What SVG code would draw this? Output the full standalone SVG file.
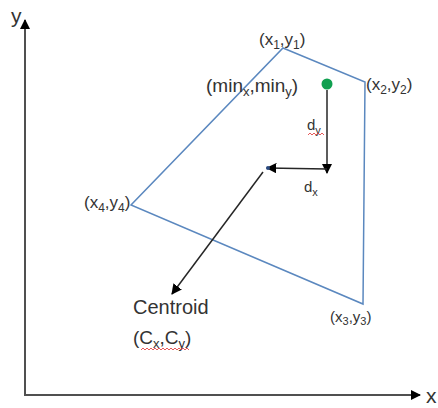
<svg xmlns="http://www.w3.org/2000/svg" width="438" height="408" viewBox="0 0 438 408">
<defs>
<style>
text{font-family:"Liberation Sans",Arial,sans-serif;fill:#333}
.lbl{font-size:17px}
.ax{stroke:#505050;stroke-width:2;fill:none}
.arr{stroke:#262626;stroke-width:1.5;fill:none}
.poly{stroke:#5b88bf;stroke-width:1.5;fill:none}
.sq{stroke:#e03030;stroke-width:0.8;fill:none}
</style>
<marker id="ah" viewBox="0 0 10 10" refX="9" refY="5" markerWidth="7" markerHeight="7" orient="auto" markerUnits="strokeWidth"><path d="M0,0 L10,5 L0,10 z" fill="#000"/></marker>
<marker id="axh" viewBox="0 0 10 10" refX="9" refY="5" markerWidth="5" markerHeight="5" orient="auto" markerUnits="strokeWidth"><path d="M0,0 L10,5 L0,10 z" fill="#000"/></marker>
</defs>
<g id="axes">
<line class="ax" x1="25" y1="395" x2="25" y2="20" marker-end="url(#axh)"/>
<line class="ax" x1="24" y1="395" x2="420" y2="395" marker-end="url(#axh)"/>
<text x="11" y="23" style="font-size:21px">y</text>
<text x="426" y="403" style="font-size:21px">x</text>
</g>
<g id="polygon">
<polygon class="poly" points="283,48 365,82 363,304 131,205"/>
</g>
<g id="connectors">
<line class="arr" x1="327" y1="90" x2="327" y2="173" marker-end="url(#ah)"/>
<line class="arr" x1="327" y1="169" x2="267" y2="168" marker-end="url(#ah)"/>
<line class="arr" x1="263" y1="172" x2="172" y2="294" marker-end="url(#ah)"/>
</g>
<g id="min-point">
<circle cx="327" cy="84" r="5.5" fill="#10a050"/>
<circle cx="268" cy="168" r="2" fill="#2a4a80"/>
</g>
<g id="labels">
<text class="lbl" x="259" y="45">(x<tspan dy="4" font-size="12">1</tspan><tspan dy="-4">,y</tspan><tspan dy="4" font-size="12">1</tspan><tspan dy="-4">)</tspan></text>
<text x="206" y="92" style="font-size:19px">(min<tspan dy="4" font-size="13">x</tspan><tspan dy="-4">,min</tspan><tspan dy="4" font-size="13">y</tspan><tspan dy="-4">)</tspan></text>
<text class="lbl" x="366" y="90">(x<tspan dy="4" font-size="12">2</tspan><tspan dy="-4">,y</tspan><tspan dy="4" font-size="12">2</tspan><tspan dy="-4">)</tspan></text>
<text x="307" y="130" style="font-size:15px">d<tspan dy="4" font-size="11">y</tspan></text>
<text x="304" y="192" style="font-size:15px">d<tspan dy="4" font-size="11">x</tspan></text>
<text class="lbl" x="84" y="208">(x<tspan dy="4" font-size="12">4</tspan><tspan dy="-4">,y</tspan><tspan dy="4" font-size="12">4</tspan><tspan dy="-4">)</tspan></text>
<text x="330" y="322" style="font-size:15px">(x<tspan dy="3" font-size="11">3</tspan><tspan dy="-3">,y</tspan><tspan dy="3" font-size="11">3</tspan><tspan dy="-3">)</tspan></text>
<text x="133" y="314" style="font-size:20px">Centroid</text>
<text x="133" y="344" style="font-size:19px">(C<tspan dy="4" font-size="13">x</tspan><tspan dy="-4">,C</tspan><tspan dy="4" font-size="13">y</tspan><tspan dy="-4">)</tspan></text>
<path class="sq" d="M308,135 l2,-2 l2,2 l2,-2 l2,2 l2,-2 l2,2 l2,-2 l2,2"/>
<path class="sq" d="M141,350 l2,-2 l2,2 l2,-2 l2,2 l2,-2 l2,2 l2,-2 l2,2 l2,-2 l2,2 l2,-2 l2,2 l2,-2 l2,2 l2,-2 l2,2 l2,-2 l2,2 l2,-2 l2,2 l2,-2 l2,2 l2,-2 l2,2"/>
</g>
</svg>
